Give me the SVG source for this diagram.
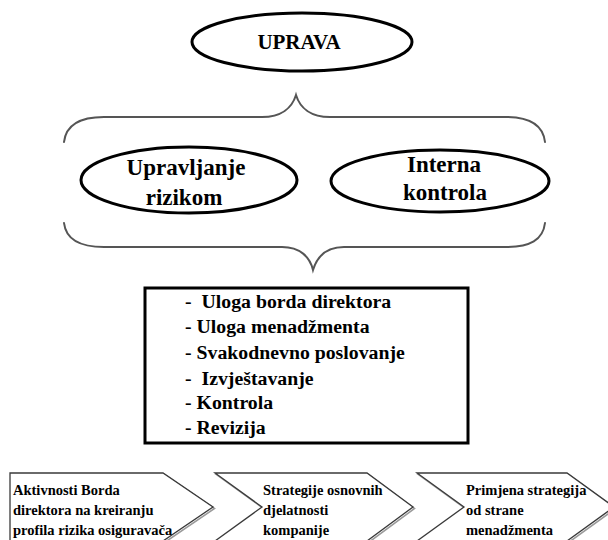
<svg xmlns="http://www.w3.org/2000/svg" width="608" height="540" viewBox="0 0 608 540">
  <style>
    .bg { fill: #ffffff; }
    .oval { fill: #ffffff; stroke: #000000; stroke-width: 3; }
    .brace { fill: none; stroke: #555555; stroke-width: 2; stroke-linecap: round; }
    .box { fill: #ffffff; stroke: #000000; stroke-width: 3; }
    .chev { fill: #ffffff; stroke: #3a3a3a; stroke-width: 1.3; stroke-linejoin: miter; }
    .chev-shadow { fill: none; stroke: #9a9a9a; stroke-width: 1.6; }
    text { font-family: 'Liberation Serif', Tinos, 'DejaVu Serif', serif; font-weight: bold; fill: #000000; }
    .title { font-size: 21px; }
    .oval-text { font-size: 23px; }
    .list { font-size: 19.8px; }
    .step { font-size: 14.5px; }
  </style>

  <rect class="bg" x="0" y="0" width="608" height="540"/>

  <!-- connectors: the two curly braces -->
  <g id="connectors">
    <path class="brace" d="M64,142 C66,125 80,117 104,117 L262,117 C281,117 292,108 296,95 C300,108 311,117 330,117 L506,117 C530,117 543,125 545,142"/>
    <path class="brace" d="M64,223 C66,240 80,247 104,247 L282,247 C300,247 310,257 313,270 C317,257 326,247 344,247 L506,247 C530,247 543,240 545,223"/>
  </g>

  <g id="uprava">
    <ellipse class="oval" cx="302" cy="42" rx="110" ry="29"/>
    <text class="title" x="299" y="49" text-anchor="middle">UPRAVA</text>
  </g>

  <g id="upravljanje-rizikom">
    <ellipse class="oval" cx="189" cy="180" rx="108" ry="33"/>
    <text class="oval-text" x="186" y="175" text-anchor="middle">Upravljanje</text>
    <text class="oval-text" x="184" y="205" text-anchor="middle">rizikom</text>
  </g>

  <g id="interna-kontrola">
    <ellipse class="oval" cx="440" cy="181" rx="109" ry="31"/>
    <text class="oval-text" x="444" y="172" text-anchor="middle">Interna</text>
    <text class="oval-text" x="445" y="200" text-anchor="middle">kontrola</text>
  </g>

  <g id="lista">
    <rect class="box" x="145" y="288" width="323" height="155"/>
    <text class="list" x="185" y="308" xml:space="preserve">-  Uloga borda direktora</text>
    <text class="list" x="185" y="333">- Uloga menadžmenta</text>
    <text class="list" x="185" y="359">- Svakodnevno poslovanje</text>
    <text class="list" x="185" y="385" xml:space="preserve">-  Izvještavanje</text>
    <text class="list" x="185" y="409">- Kontrola</text>
    <text class="list" x="185" y="434">- Revizija</text>
  </g>

  <g id="korak-1">
    <polygon class="chev-shadow" points="11.5,474.5 164.5,474.5 214.5,508.5 164.5,542.5 11.5,542.5"/>
    <polygon class="chev" points="10,473 163,473 213,507 163,541 10,541"/>
    <text class="step" x="13" y="495">Aktivnosti Borda</text>
    <text class="step" x="13" y="515">direktora na kreiranju</text>
    <text class="step" x="13" y="535">profila rizika osiguravača</text>
  </g>

  <g id="korak-2">
    <polygon class="chev-shadow" points="216.5,474.5 368.5,474.5 414.5,508.5 368.5,542.5 216.5,542.5 263.5,508.5"/>
    <polygon class="chev" points="215,473 367,473 413,507 367,541 215,541 262,507"/>
    <text class="step" x="263" y="495">Strategije osnovnih</text>
    <text class="step" x="263" y="515">djelatnosti</text>
    <text class="step" x="263" y="535">kompanije</text>
  </g>

  <g id="korak-3">
    <polygon class="chev-shadow" points="418.5,474.5 568.5,474.5 615.5,508.5 568.5,542.5 418.5,542.5 465.5,508.5"/>
    <polygon class="chev" points="417,473 567,473 614,507 567,541 417,541 464,507"/>
    <text class="step" x="466" y="495">Primjena strategija</text>
    <text class="step" x="466" y="515">od strane</text>
    <text class="step" x="466" y="535">menadžmenta</text>
  </g>
</svg>
